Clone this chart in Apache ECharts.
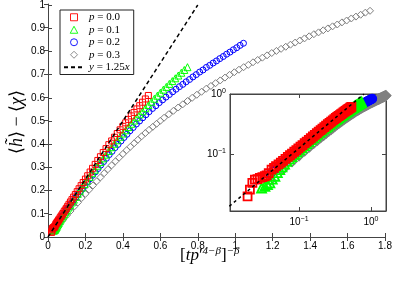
<!DOCTYPE html>
<html><head><meta charset="utf-8">
<script src="https://cdn.jsdelivr.net/npm/echarts@6/dist/echarts.min.js"></script>
<style>html,body{margin:0;padding:0;background:#fff}#c{width:399px;height:285px}</style>
</head><body><div id="c"></div>
<script>
// ---- data ----
const seriesNames = ['p = 0.0', 'p = 0.1', 'p = 0.2', 'p = 0.3'];
const fitName = 'y = 1.25x';
const fitSlope = 1.25;
const fitXMain = [0, 0.8];
const fitXInset = [0.008, 0.8];
const xTicksMain = [0, 0.2, 0.4, 0.6, 0.8, 1, 1.2, 1.4, 1.6, 1.8];
const yTicksMain = [0, 0.1, 0.2, 0.3, 0.4, 0.5, 0.6, 0.7, 0.8, 0.9, 1];

const p00 = [[0.0193,0.0197],[0.0208,0.0255],[0.0225,0.033],[0.0244,0.0373],[0.0265,0.038],[0.0286,0.0398],[0.031,0.041],[0.0335,0.0425],[0.0355,0.044],[0.038,0.048],[0.0416,0.0548],[0.045,0.0588],[0.048,0.0625],[0.052,0.0672],[0.056,0.072],[0.06,0.0768],[0.065,0.083],[0.07,0.0892],[0.075,0.0953],[0.08,0.1015],[0.086,0.109],[0.092,0.1163],[0.098,0.1237],[0.105,0.1323],[0.112,0.141],[0.12,0.151],[0.128,0.161],[0.137,0.172],[0.146,0.183],[0.156,0.1955],[0.166,0.208],[0.177,0.2215],[0.188,0.235],[0.2,0.2495],[0.212,0.264],[0.225,0.28],[0.238,0.296],[0.252,0.313],[0.266,0.33],[0.28,0.346],[0.295,0.364],[0.31,0.381],[0.325,0.398],[0.34,0.414],[0.355,0.43],[0.37,0.446],[0.385,0.462],[0.4,0.477],[0.415,0.492],[0.43,0.507],[0.445,0.522],[0.46,0.537],[0.475,0.552],[0.49,0.566],[0.505,0.581],[0.52,0.595],[0.536,0.61]];

const p01 = [[0.0302,0.0271],[0.0336,0.0289],[0.0365,0.031],[0.0394,0.0329],[0.0425,0.038],[0.0462,0.0425],[0.05,0.049],[0.054,0.055],[0.058,0.061],[0.063,0.068],[0.068,0.075],[0.074,0.083],[0.08,0.09],[0.087,0.099],[0.094,0.107],[0.102,0.117],[0.11,0.127],[0.119,0.138],[0.128,0.149],[0.138,0.161],[0.148,0.173],[0.159,0.186],[0.17,0.199],[0.182,0.213],[0.195,0.228],[0.208,0.243],[0.222,0.259],[0.236,0.275],[0.25,0.29],[0.265,0.307],[0.28,0.323],[0.295,0.339],[0.31,0.355],[0.325,0.371],[0.34,0.387],[0.355,0.402],[0.37,0.417],[0.385,0.432],[0.4,0.446],[0.415,0.46],[0.43,0.474],[0.445,0.488],[0.46,0.502],[0.475,0.516],[0.49,0.529],[0.505,0.542],[0.52,0.555],[0.536,0.569],[0.552,0.583],[0.568,0.596],[0.584,0.609],[0.6,0.622],[0.616,0.635],[0.632,0.647],[0.648,0.66],[0.664,0.672],[0.68,0.684],[0.696,0.696],[0.712,0.708],[0.728,0.72],[0.745,0.732]];

const p02 = [[0.04,0.047],[0.044,0.052],[0.048,0.057],[0.053,0.063],[0.058,0.069],[0.064,0.076],[0.07,0.083],[0.077,0.091],[0.084,0.099],[0.092,0.108],[0.1,0.117],[0.109,0.127],[0.118,0.137],[0.128,0.148],[0.138,0.159],[0.149,0.171],[0.16,0.183],[0.172,0.196],[0.184,0.209],[0.197,0.223],[0.21,0.237],[0.224,0.251],[0.238,0.266],[0.252,0.28],[0.267,0.295],[0.282,0.31],[0.297,0.325],[0.312,0.339],[0.327,0.355],[0.342,0.369],[0.358,0.385],[0.374,0.399],[0.39,0.414],[0.406,0.429],[0.422,0.443],[0.438,0.458],[0.455,0.472],[0.472,0.487],[0.489,0.5],[0.506,0.514],[0.523,0.527],[0.54,0.54],[0.558,0.554],[0.576,0.566],[0.594,0.579],[0.612,0.591],[0.63,0.603],[0.648,0.614],[0.666,0.626],[0.684,0.637],[0.702,0.648],[0.72,0.658],[0.738,0.669],[0.756,0.679],[0.774,0.69],[0.792,0.7],[0.81,0.711],[0.828,0.72],[0.846,0.731],[0.864,0.74],[0.882,0.75],[0.9,0.759],[0.918,0.769],[0.936,0.778],[0.954,0.788],[0.972,0.797],[0.99,0.807],[1.008,0.816],[1.026,0.826],[1.044,0.835]];

const p03 = [[0.04,0.036],[0.06,0.055],[0.08,0.074],[0.10,0.093],[0.12,0.112],[0.14,0.131],[0.16,0.149],[0.18,0.168],[0.20,0.186],[0.22,0.204],[0.24,0.222],[0.26,0.24],[0.28,0.257],[0.30,0.275],[0.32,0.292],[0.34,0.309],[0.36,0.326],[0.38,0.342],[0.40,0.358],[0.42,0.374],[0.44,0.389],[0.46,0.404],[0.48,0.419],[0.50,0.434],[0.52,0.448],[0.54,0.462],[0.56,0.475],[0.58,0.488],[0.60,0.501],[0.62,0.514],[0.645,0.529],[0.67,0.544],[0.695,0.558],[0.72,0.572],[0.745,0.586],[0.77,0.6],[0.795,0.613],[0.82,0.626],[0.845,0.639],[0.87,0.651],[0.895,0.663],[0.92,0.675],[0.945,0.687],[0.97,0.699],[0.995,0.71],[1.02,0.721],[1.045,0.732],[1.07,0.742],[1.095,0.753],[1.12,0.763],[1.145,0.773],[1.17,0.783],[1.195,0.793],[1.22,0.802],[1.245,0.811],[1.27,0.82],[1.295,0.829],[1.32,0.838],[1.345,0.847],[1.37,0.856],[1.395,0.865],[1.42,0.874],[1.445,0.882],[1.47,0.891],[1.495,0.899],[1.52,0.908],[1.545,0.916],[1.57,0.925],[1.595,0.933],[1.62,0.942],[1.645,0.95],[1.67,0.958],[1.695,0.967],[1.72,0.975]];

// ---- styling ----
const colors = ['#ff0000', '#00ff00', '#0000ff', '#808080'];
const symbols = ['rect', 'triangle', 'circle', 'diamond'];
const legendIcons = ['path://M0.5,0.5H6.5V6.5H0.5Z', 'path://M3.5,0L7,6.5L0,6.5Z',
  'path://M3.5,0.3A3.2,3.2,0,1,1,3.5,6.7A3.2,3.2,0,1,1,3.5,0.3Z', 'path://M3.5,0L7,3.5L3.5,7L0,3.5Z'];
const sizes = [6, 7, 6, 7];
const insetSizes = [8, 9, 8, 9];
const dataSets = [p00, p01, p02, p03];
const axisColor = '#444';
const labelFont = {color: '#000', fontSize: 10, fontFamily: 'Liberation Sans'};

const chart = echarts.init(document.getElementById('c'), null, {renderer: 'canvas'});

function fitData(xs) { return xs.map(x => [x, fitSlope * x]); }

const series = [];
function addScatter(i, xi, yi, z, size, bw) {
  series.push({
    name: seriesNames[i], type: 'scatter', xAxisIndex: xi, yAxisIndex: yi, z: z,
    symbol: symbols[i], symbolSize: size, data: dataSets[i],
    itemStyle: {color: 'rgba(0,0,0,0)', borderColor: colors[i], borderWidth: bw, opacity: 1},
    emphasis: {disabled: true}, silent: true, animation: false
  });
}
// main: draw gray, blue, green, red
[3, 2, 1, 0].forEach(i => addScatter(i, 0, 0, 2, sizes[i], 1));
series.push({name: fitName, type: 'line', xAxisIndex: 0, yAxisIndex: 0, z: 3, data: fitData(fitXMain),
  symbol: 'none', itemStyle: {color: 'rgba(0,0,0,0)', borderWidth: 0},
  lineStyle: {color: '#000', width: 1.5, type: [4, 3]}, animation: false, silent: true});
// inset
[3, 2, 1, 0].forEach(i => addScatter(i, 2, 2, 12, insetSizes[i], 1.8));
series.push({name: fitName, type: 'line', xAxisIndex: 2, yAxisIndex: 2, z: 13, data: fitData(fitXInset),
  symbol: 'none', itemStyle: {color: 'rgba(0,0,0,0)', borderWidth: 0},
  lineStyle: {color: '#000', width: 1.5, type: [3, 3]}, animation: false, silent: true});

function pow10Label(v) {
  const e = Math.log10(v); const r = Math.round(e);
  if (Math.abs(e - r) > 1e-6) return '';
  return '10{s|' + (r < 0 ? '\u2212' + (-r) : r) + '}';
}
const supRich = {s: {fontSize: 7, fontFamily: 'Liberation Sans', color: '#000', verticalAlign: 'bottom', padding: [0, 0, 6, 0]}};

const mainAxisCommon = {
  axisLine: {show: true, lineStyle: {color: axisColor, width: 1}},
  axisTick: {show: true, inside: true, length: 4, lineStyle: {color: axisColor}},
  splitLine: {show: false}
};
const legendData = seriesNames.map((n, i) => ({name: n, icon: legendIcons[i],
  itemStyle: {color: 'rgba(0,0,0,0)', borderColor: colors[i], borderWidth: 0.9}}));
legendData.push({name: fitName});

const option = {
  animation: false,
  backgroundColor: '#fff',
  grid: [
    {left: 48, right: 14, top: 4, bottom: 48, containLabel: false},
    {left: 48, right: 14, top: 4, bottom: 48, containLabel: false},
    {left: 230, top: 94, width: 156, height: 117, show: true, backgroundColor: '#fff', borderColor: axisColor, borderWidth: 1, z: 10}
  ],
  xAxis: [
    Object.assign({type: 'value', gridIndex: 0, min: xTicksMain[0], max: xTicksMain[xTicksMain.length - 1], interval: 0.2,
      axisLabel: Object.assign({margin: 4}, labelFont)}, mainAxisCommon),
    Object.assign({type: 'value', gridIndex: 1, position: 'top', min: 0, max: 1.8, interval: 0.2,
      axisLabel: {show: false}}, mainAxisCommon),
    {type: 'log', logBase: 10, gridIndex: 2, min: 0.011, max: 1.62, z: 11,
      axisLine: {show: true, lineStyle: {color: axisColor}},
      axisTick: {show: true, inside: true, length: 4, lineStyle: {color: axisColor}},
      splitLine: {show: false}, minorTick: {show: false},
      axisLabel: Object.assign({margin: 5, formatter: pow10Label, rich: supRich}, labelFont)},
    {type: 'log', logBase: 10, gridIndex: 2, position: 'top', min: 0.011, max: 1.62, z: 11,
      axisLine: {show: true, lineStyle: {color: axisColor}},
      axisTick: {show: true, inside: true, length: 4, lineStyle: {color: axisColor}},
      splitLine: {show: false}, axisLabel: {show: false}}
  ],
  yAxis: [
    Object.assign({type: 'value', gridIndex: 0, min: yTicksMain[0], max: yTicksMain[yTicksMain.length - 1], interval: 0.1,
      axisLabel: Object.assign({margin: 3}, labelFont)}, mainAxisCommon),
    Object.assign({type: 'value', gridIndex: 1, position: 'right', min: 0, max: 1, interval: 0.1,
      axisLabel: {show: false}}, mainAxisCommon),
    {type: 'log', logBase: 10, gridIndex: 2, min: 0.0112, max: 1, z: 11,
      axisLine: {show: true, lineStyle: {color: axisColor}},
      axisTick: {show: true, inside: true, length: 4, lineStyle: {color: axisColor}},
      splitLine: {show: false},
      axisLabel: Object.assign({margin: 4, formatter: pow10Label, rich: supRich}, labelFont)},
    {type: 'log', logBase: 10, gridIndex: 2, position: 'right', min: 0.0112, max: 1, z: 11,
      axisLine: {show: true, lineStyle: {color: axisColor}},
      axisTick: {show: true, inside: true, length: 4, lineStyle: {color: axisColor}},
      splitLine: {show: false}, axisLabel: {show: false}}
  ],
  legend: {
    data: legendData,
    orient: 'vertical', left: 60, top: 10, z: 20,
    padding: [1, 4, 1, 3], itemGap: 0, itemWidth: 20, itemHeight: 7,
    symbolKeepAspect: true,
    borderColor: '#222', borderWidth: 1, backgroundColor: '#fff',
    selectedMode: false,
    textStyle: {fontFamily: 'Liberation Serif', fontSize: 11, color: '#000', lineHeight: 12.5,
      rich: {i: {fontFamily: 'Liberation Serif', fontStyle: 'italic', fontSize: 11, color: '#000', lineHeight: 12.5}}},
    formatter: function (n) {
      if (n === fitName) return '{i|y} = 1.25{i|x}';
      return '{i|p}' + n.slice(1);
    }
  },
  graphic: [
    {type: 'text', left: 180, top: 246, z: 30,
      style: {text: '[{i|tp}\u2032{s|4\u2212\u03b2}]{s|\u2212\u03b2}', fill: '#000',
        font: '17px "Liberation Serif"',
        rich: {i: {fontStyle: 'italic', fontFamily: 'Liberation Serif', fontSize: 17},
               s: {fontStyle: 'italic', fontFamily: 'Liberation Serif', fontSize: 11, verticalAlign: 'bottom', padding: [0, 0, 9, 0]}}}},
    {type: 'text', x: 17, y: 122, rotation: Math.PI / 2, z: 30,
      style: {text: '\u27e8{i|h\u0303}\u27e9 \u2212 \u27e8{i|\u03c7}\u27e9', fill: '#000',
        font: '18px "Liberation Serif"', align: 'center', verticalAlign: 'middle',
        rich: {i: {fontStyle: 'italic', fontFamily: 'Liberation Serif', fontSize: 18}}}}
  ],
  series: series
};
chart.setOption(option);
</script></body></html>
